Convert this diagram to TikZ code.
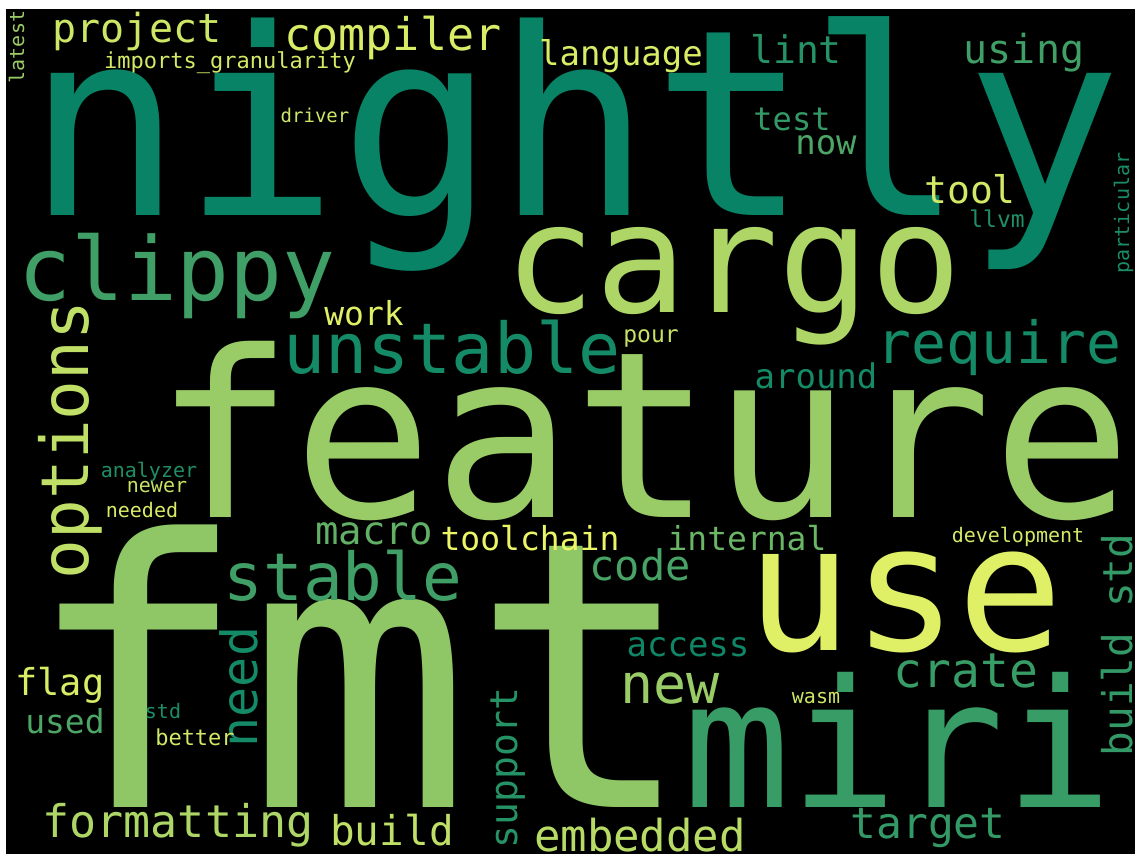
\documentclass[tikz,border=0pt]{standalone}
\usepackage{fontspec}
\newfontfamily\wcfont{DejaVu Sans Mono}
\tikzset{
  wrd/.style={font={\wcfont\fontsize{#1}{#1}\selectfont}, inner sep=0pt, outer sep=0pt, anchor=base},
  clr/.style 2 args={text={rgb,255:red,#1;green,#2;blue,102}},
}
\begin{document}
\begin{tikzpicture}[x=1pt,y=-1pt]
\useasboundingbox (0,0) rectangle (1135,854);
\fill[white] (0,0) rectangle (1135,854);
\fill[black] (6,9) rectangle (1135,854);
\begin{scope}
\clip (6,9) rectangle (1135,854);
\node[wrd=260, clr={8}{131}] (nightly) at (574,215) {nightly};
\node[wrd=232, clr={153}{204}] (feature) at (643,517) {feature};
\node[wrd=372, clr={143}{199}] (fmt) at (360,807) {fmt};
\node[wrd=152, clr={173}{214}] (cargo) at (733,312) {cargo};
\node[wrd=176, clr={224}{240}] (use) at (905,650) {use};
\node[wrd=178, clr={56}{156}] (miri) at (898,807) {miri};
\node[wrd=88, clr={64}{159}] (clippy) at (177,300) {clippy};
\node[wrd=70, clr={20}{138}] (unstable) at (452,373) {unstable};
\node[wrd=58, clr={20}{138}] (require) at (999,363) {require};
\node[wrd=66, clr={191}{223}, rotate=90] (options) at (88,440) {options};
\node[wrd=66, clr={64}{159}] (stable) at (343,600) {stable};
\node[wrd=48, clr={56}{156}] (crate) at (966,687) {crate};
\node[wrd=45, clr={217}{236}] (compiler) at (393,50) {compiler};
\node[wrd=40, clr={204}{230}] (project) at (137,42) {project};
\node[wrd=22, clr={212}{233}] (imports) at (230,68) {imports\_granularity};
\node[wrd=20, clr={153}{204}, rotate=90] (latest) at (24,47) {latest};
\node[wrd=19, clr={204}{230}] (driver) at (315,122) {driver};
\node[wrd=34, clr={217}{236}] (language) at (621,65) {language};
\node[wrd=38, clr={38}{147}] (lint) at (796,63) {lint};
\node[wrd=40, clr={64}{159}] (using) at (1024,63) {using};
\node[wrd=32, clr={51}{153}] (test) at (792,130) {test};
\node[wrd=34, clr={77}{166}] (now) at (826,154) {now};
\node[wrd=38, clr={209}{233}] (tool) at (970,203) {tool};
\node[wrd=23, clr={31}{143}] (llvm) at (997,227) {llvm};
\node[wrd=20, clr={26}{140}, rotate=90] (particular) at (1129,213) {particular};
\node[wrd=33, clr={224}{240}] (work) at (364,325) {work};
\node[wrd=23, clr={199}{227}] (pour) at (651,342) {pour};
\node[wrd=34, clr={20}{138}] (around) at (816,388) {around};
\node[wrd=33, clr={107}{181}] (internal) at (747,550) {internal};
\node[wrd=20, clr={212}{233}] (development) at (1018,542) {development};
\node[wrd=41, clr={51}{153}, rotate=90] (buildstd) at (1132,645) {build std};
\node[wrd=42, clr={71}{163}] (code) at (640,580) {code};
\node[wrd=39, clr={97}{176}] (macro) at (374,544) {macro};
\node[wrd=33, clr={235}{245}] (toolchain) at (530,550) {toolchain};
\node[wrd=34, clr={15}{135}] (access) at (688,656) {access};
\node[wrd=55, clr={153}{204}] (new) at (670,703) {new};
\node[wrd=50, clr={20}{138}, rotate=90] (need) at (257,687) {need};
\node[wrd=38, clr={38}{147}, rotate=90] (support) at (517,768) {support};
\node[wrd=44, clr={184}{219}] (embedded) at (640,851) {embedded};
\node[wrd=41, clr={191}{223}] (build) at (392,845) {build};
\node[wrd=45, clr={173}{214}] (formatting) at (178,837) {formatting};
\node[wrd=37, clr={217}{236}] (flag) at (60,695) {flag};
\node[wrd=33, clr={77}{166}] (used) at (65,733) {used};
\node[wrd=20, clr={26}{140}] (std) at (163,718) {std};
\node[wrd=22, clr={209}{233}] (better) at (195,745) {better};
\node[wrd=20, clr={31}{143}] (analyzer) at (149,477) {analyzer};
\node[wrd=20, clr={199}{227}] (newer) at (157,492) {newer};
\node[wrd=20, clr={217}{236}] (needed) at (142,517) {needed};
\node[wrd=20, clr={204}{230}] (wasm) at (816,703) {wasm};
\node[wrd=43, clr={51}{153}] (target) at (928,838) {target};
\end{scope}
\end{tikzpicture}
\end{document}
